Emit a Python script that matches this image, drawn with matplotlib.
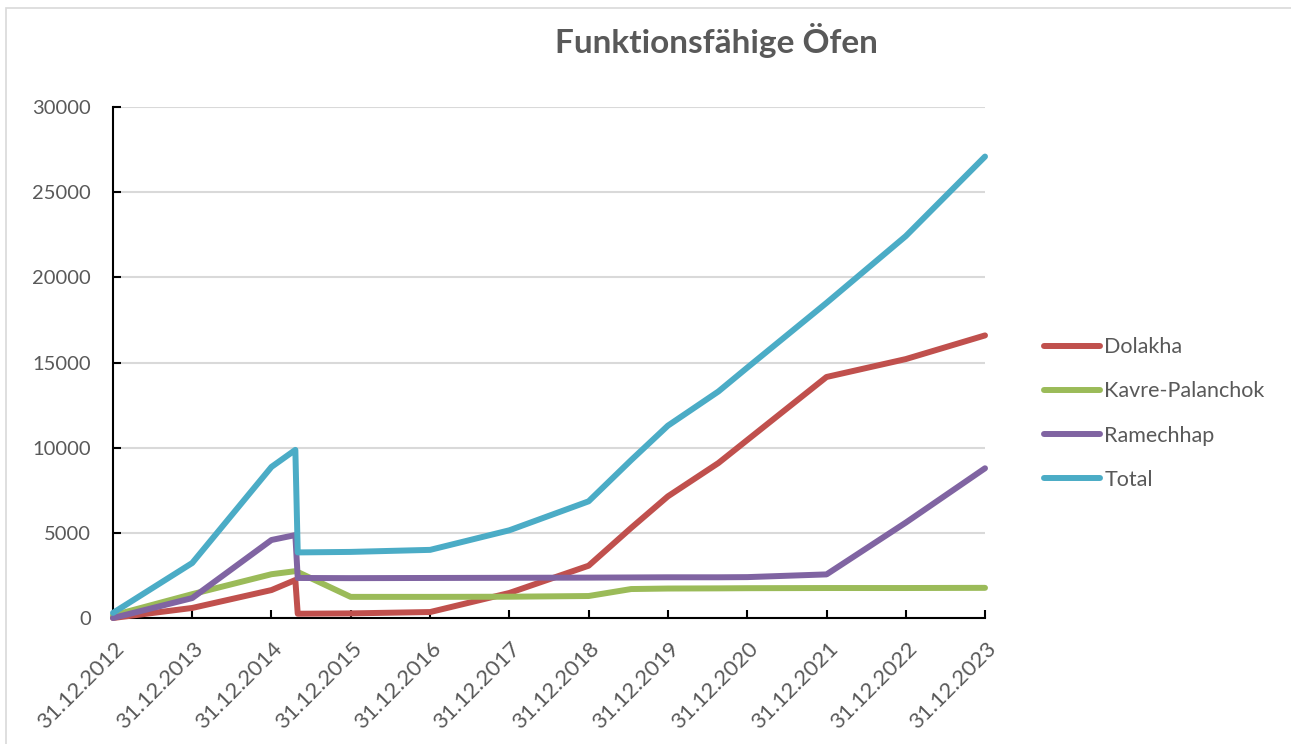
import matplotlib
matplotlib.use("Agg")
import matplotlib.pyplot as plt
import matplotlib.transforms as mtrans
from matplotlib.patches import Rectangle
import pandas as pd

plt.rcParams['font.family'] = ['Lato', 'DejaVu Sans']

# data (values at each reporting date)
dates = ['2012-12-31', '2013-12-31', '2014-12-31', '2015-04-20', '2015-05-01',
         '2015-12-31', '2016-12-31', '2017-12-31', '2018-12-31', '2019-07-15',
         '2019-12-31', '2020-08-20', '2020-12-31', '2021-12-31', '2022-12-31',
         '2023-12-31']
dolakha = [0, 590, 1640, 2230, 250, 270, 350, 1470, 3070, 5290,
           7140, 9100, 10450, 14150, 15200, 16590]
kavre = [150, 1400, 2570, 2750, 2700, 1240, 1240, 1250, 1290, 1700,
         1730, 1740, 1750, 1760, 1760, 1770]
ramechhap = [0, 1170, 4580, 4870, 2350, 2340, 2350, 2360, 2370, 2380,
             2390, 2390, 2400, 2560, 5600, 8790]
total = [300, 3230, 8870, 9870, 3850, 3880, 4000, 5150, 6850, 9270,
         11290, 13300, 14700, 18500, 22420, 27090]

series_names = ['Dolakha', 'Kavre-Palanchok', 'Ramechhap', 'Total']
series_colors = ['#C0504D', '#9BBB59', '#8064A2', '#4BACC6']

tick_dates = ['31.12.%d' % y for y in range(2012, 2024)]

x = pd.to_datetime(dates)
xt = pd.to_datetime(tick_dates, format='%d.%m.%Y')

fig = plt.figure(figsize=(12.91, 7.44), dpi=100)
fig.patches.append(Rectangle((6 / 1291, -0.1), 1.2, 1 - 8 / 744 + 0.1,
                             transform=fig.transFigure, fill=False,
                             edgecolor='#d9d9d9', lw=1.2))
ax = fig.add_axes([113 / 1291, 1 - 618 / 744, (985 - 113) / 1291, (618 - 107) / 744])

for vals, name, col in zip([dolakha, kavre, ramechhap, total], series_names, series_colors):
    ax.plot(x, vals, color=col, lw=4.3, label=name, clip_on=False,
            solid_capstyle='round', solid_joinstyle='round', zorder=3)

ax.set_xlim(xt[0], xt[-1])
ax.set_ylim(0, 30000)
ax.set_yticks(range(0, 30001, 5000))
ax.grid(axis='y', color='#d9d9d9', lw=1.5)
ax.set_axisbelow(True)
for s in ['top', 'right']:
    ax.spines[s].set_visible(False)
for s in ['left', 'bottom']:
    ax.spines[s].set_color('black')
    ax.spines[s].set_linewidth(1.5)
    ax.spines[s].set_zorder(2.5)

ax.tick_params(axis='both', direction='in', length=6, width=1.5, color='black',
               labelsize=14.5, labelcolor='#595959')
ax.tick_params(axis='y', pad=16)

ax.set_xticks(xt)
ax.set_xticklabels(tick_dates, rotation=45, ha='right', va='center',
                   rotation_mode='anchor', fontsize=16)
# shift rotated date labels so their ends sit just below the ticks
off = mtrans.ScaledTranslation(8 / 100, -23 / 100, fig.dpi_scale_trans)
for lab in ax.get_xticklabels():
    lab.set_transform(lab.get_transform() + off)

fig.text(716 / 1291, 1 - 53 / 744, 'Funktionsfähige Öfen', ha='center', va='baseline',
         fontsize=24, fontweight='bold', color='#595959')

leg = ax.legend(loc='center left', bbox_to_anchor=(1044 / 1291, 1 - 413.5 / 744),
                bbox_transform=fig.transFigure, frameon=False, fontsize=15.5,
                handlelength=2.6, handletextpad=0.2, labelspacing=1.12,
                borderpad=0, borderaxespad=0)
for t in leg.get_texts():
    t.set_color('#595959')

fig.savefig('out.png', dpi=100)
